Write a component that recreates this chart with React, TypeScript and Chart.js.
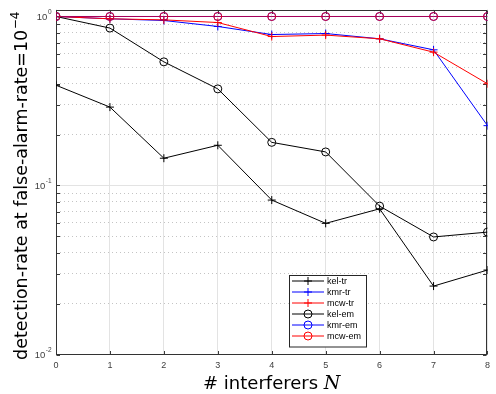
import React, { useEffect, useRef } from "react";
import { Chart, registerables } from "chart.js";

Chart.register(...registerables);

// ---------------- data ----------------
const interferers = [0, 1, 2, 3, 4, 5, 6, 7, 8];
const kelTr = [0.392, 0.291, 0.145, 0.173, 0.082, 0.0597, 0.0728, 0.0254, 0.0316];
const kmrTr = [1.0, 0.969, 0.947, 0.873, 0.782, 0.793, 0.738, 0.635, 0.226];
const mcwTr = [1.0, 0.969, 0.955, 0.921, 0.761, 0.776, 0.738, 0.615, 0.4];
const kelEm = [1.0, 0.854, 0.539, 0.373, 0.18, 0.158, 0.0755, 0.0496, 0.053];
const kmrEm = [1.0, 1.0, 1.0, 1.0, 1.0, 1.0, 1.0, 1.0, 1.0];
const mcwEm = [1.0, 1.0, 1.0, 1.0, 1.0, 1.0, 1.0, 1.0, 1.0];
const seriesNames = ["kel-tr", "kmr-tr", "mcw-tr", "kel-em", "kmr-em", "mcw-em"];

const yMin = 0.01;
const yMax = 1.1;
const yDecades = [0.01, 0.1, 1];
const yDecadeExponents = ["-2", "-1", "0"];
const yMinorMultipliers = [1, 2, 3, 4, 5, 6, 7, 8, 9];
const xTickLabels = ["0", "1", "2", "3", "4", "5", "6", "7", "8"];

const yTitle = "detection-rate at false-alarm-rate=10";
const yTitleExp = "\u22124";
const xTitle = "# interferers ";
const xTitleVar = "N";

// ---------------- styles ----------------
const SANS = '"Liberation Sans", Arial, sans-serif';
const TITLE_SANS = '"DejaVu Sans", sans-serif';
const SERIF = '"DejaVu Serif", serif';

function isDecade(v: number) {
  return yDecades.some((d) => Math.abs(d - v) < d * 1e-6);
}

function drawMarker(ctx: CanvasRenderingContext2D, style: string, x: number, y: number, r: number) {
  ctx.beginPath();
  if (style === "cross") {
    ctx.moveTo(x - r, y);
    ctx.lineTo(x + r, y);
    ctx.moveTo(x, y - r);
    ctx.lineTo(x, y + r);
  } else {
    ctx.arc(x, y, r, 0, Math.PI * 2);
  }
  ctx.stroke();
}

const framePlugin = {
  id: "frame",
  beforeDatasetsDraw(chart: any) {
    const { ctx, chartArea: a, scales } = chart;
    const L = Math.round(a.left) + 0.5;
    const R = Math.round(a.right) - 0.5;
    const T = Math.round(a.top) + 0.5;
    const B = Math.round(a.bottom) - 0.5;
    ctx.save();
    ctx.strokeStyle = "#3a3a3a";
    ctx.lineWidth = 1;
    ctx.beginPath();
    for (const t of scales.y.ticks) {
      const py = Math.round(scales.y.getPixelForValue(t.value)) + 0.5;
      ctx.moveTo(L, py);
      ctx.lineTo(L + 3.5, py);
      ctx.moveTo(R, py);
      ctx.lineTo(R - 3.5, py);
    }
    for (const v of interferers) {
      const px = Math.round(scales.x.getPixelForValue(v)) + 0.5;
      ctx.moveTo(px, B);
      ctx.lineTo(px, B - 3.5);
      ctx.moveTo(px, T);
      ctx.lineTo(px, T + 3.5);
    }
    ctx.stroke();
    ctx.strokeStyle = "#333333";
    ctx.strokeRect(L, T, R - L, B - T);
    ctx.restore();
  },
  afterDraw(chart: any) {
    const { ctx, chartArea: a, scales } = chart;
    ctx.save();
    // y tick labels 10^e
    ctx.fillStyle = "#404040";
    ctx.textBaseline = "middle";
    yDecades.forEach((d, i) => {
      const py = scales.y.getPixelForValue(d);
      ctx.font = `6.5px ${SANS}`;
      ctx.textAlign = "right";
      const expW = ctx.measureText(yDecadeExponents[i]).width;
      const right = a.left - 4.5;
      ctx.fillText(yDecadeExponents[i], right, py - 4);
      ctx.font = `9.5px ${SANS}`;
      ctx.fillText("10", right - expW - 0.5, py + 1);
    });

    // y title (rotated)
    ctx.fillStyle = "#000000";
    ctx.save();
    const cy = (a.top + a.bottom) / 2 + 4;
    ctx.translate(27, cy);
    ctx.rotate(-Math.PI / 2);
    ctx.textBaseline = "alphabetic";
    ctx.textAlign = "left";
    ctx.font = `17.5px ${TITLE_SANS}`;
    const w1 = ctx.measureText(yTitle).width;
    ctx.font = `12px ${TITLE_SANS}`;
    const w2 = ctx.measureText(yTitleExp).width;
    const start = -(w1 + w2) / 2;
    ctx.font = `17.5px ${TITLE_SANS}`;
    ctx.fillText(yTitle, start, 0);
    ctx.font = `12px ${TITLE_SANS}`;
    ctx.fillText(yTitleExp, start + w1 + 0.5, -8);
    ctx.restore();

    // x title
    ctx.textBaseline = "alphabetic";
    ctx.textAlign = "left";
    ctx.font = `18px ${TITLE_SANS}`;
    const xw1 = ctx.measureText(xTitle).width;
    ctx.font = `italic 19px ${SERIF}`;
    const xw2 = ctx.measureText(xTitleVar).width;
    const cx = (a.left + a.right) / 2;
    const sx = cx - (xw1 + xw2) / 2;
    ctx.font = `18px ${TITLE_SANS}`;
    ctx.fillText(xTitle, sx, 389);
    ctx.font = `italic 19px ${SERIF}`;
    ctx.fillText(xTitleVar, sx + xw1, 389);

    // legend
    const bx = 289.5, by = 275.5, bw = 77, bh = 71.5;
    ctx.fillStyle = "#ffffff";
    ctx.fillRect(bx, by, bw, bh);
    ctx.strokeStyle = "#262626";
    ctx.lineWidth = 1;
    ctx.strokeRect(bx, by, bw, bh);
    chart.data.datasets.forEach((ds: any, i: number) => {
      const ry = 281 + i * 11;
      ctx.strokeStyle = ds.legendColor;
      ctx.lineWidth = 1;
      ctx.beginPath();
      ctx.moveTo(292, ry);
      ctx.lineTo(324, ry);
      ctx.stroke();
      drawMarker(ctx, ds.pointStyle, 308, ry, 4);
      ctx.fillStyle = "#000000";
      ctx.font = `9px ${SANS}`;
      ctx.textBaseline = "middle";
      ctx.textAlign = "left";
      ctx.fillText(ds.label, 327, ry + 0.5);
    });
    ctx.restore();
  },
};

const seriesValues = [kelTr, kmrTr, mcwTr, kelEm, kmrEm, mcwEm];
const seriesLine = ["#000000", "#0000ff", "#ff0000", "#000000", "#0000ff", "rgba(255,0,0,0.65)"];
const seriesPoint = ["#000000", "#0000ff", "#ff0000", "#000000", "#0000ff", "rgba(255,0,0,0.85)"];
const seriesLegend = ["#000000", "#0000ff", "#ff0000", "#000000", "#0000ff", "#ff0000"];
const seriesMarker = ["cross", "cross", "cross", "circle", "circle", "circle"];

export default function App() {
  const ref = useRef<HTMLCanvasElement | null>(null);
  useEffect(() => {
    document.body.style.margin = "0";
    if (!ref.current) return;
    const datasets = seriesValues.map((vals, k) => ({
      label: seriesNames[k],
      data: interferers.map((n, i) => ({ x: n, y: vals[i] })),
      borderColor: seriesLine[k],
      pointBorderColor: seriesPoint[k],
      backgroundColor: "rgba(0,0,0,0)",
      pointBackgroundColor: "rgba(0,0,0,0)",
      legendColor: seriesLegend[k],
      borderWidth: 1,
      pointStyle: seriesMarker[k],
      pointRadius: 4,
      pointBorderWidth: 1,
      pointHoverRadius: 4,
      tension: 0,
      fill: false,
      order: seriesValues.length - 1 - k,
    }));
    const chart = new Chart(ref.current, {
      type: "line",
      data: { datasets: datasets as any },
      options: {
        animation: false,
        responsive: false,
        devicePixelRatio: 1,
        events: [],
        layout: { padding: { top: 9.5, right: 4, left: 0, bottom: 0 } },
        plugins: { legend: { display: false }, tooltip: { enabled: false } },
        scales: {
          x: {
            type: "linear",
            min: 0,
            max: 8,
            afterFit: (s: any) => {
              s.height = 39.5;
            },
            ticks: {
              stepSize: 1,
              color: "#404040",
              font: { size: 9, family: SANS },
              padding: 6,
              callback: (_v: any, i: number) => xTickLabels[i],
            },
            grid: { color: "#e3e3e3", lineWidth: 1, drawTicks: false },
            border: { display: false },
          },
          y: {
            type: "logarithmic",
            min: yMin,
            max: yMax,
            afterFit: (s: any) => {
              s.width = 56;
            },
            afterBuildTicks: (s: any) => {
              const ticks: { value: number }[] = [];
              for (const d of yDecades) {
                for (const m of yMinorMultipliers) {
                  const v = d * m;
                  if (v >= yMin * 0.999 && v <= yMax) ticks.push({ value: v });
                }
              }
              s.ticks = ticks;
            },
            ticks: { display: false, autoSkip: false },
            grid: {
              drawTicks: false,
              lineWidth: 1,
              color: (c: any) => (c.tick && isDecade(c.tick.value) ? "#e3e3e3" : "#c4c4c4"),
            },
            border: {
              display: false,
              dash: (c: any) => (c.tick && isDecade(c.tick.value) ? [] : [1, 3]),
            },
          },
        },
      },
      plugins: [framePlugin],
    } as any);
    return () => chart.destroy();
  }, []);
  return <canvas ref={ref} width={496} height={394} style={{ display: "block" }} />;
}
